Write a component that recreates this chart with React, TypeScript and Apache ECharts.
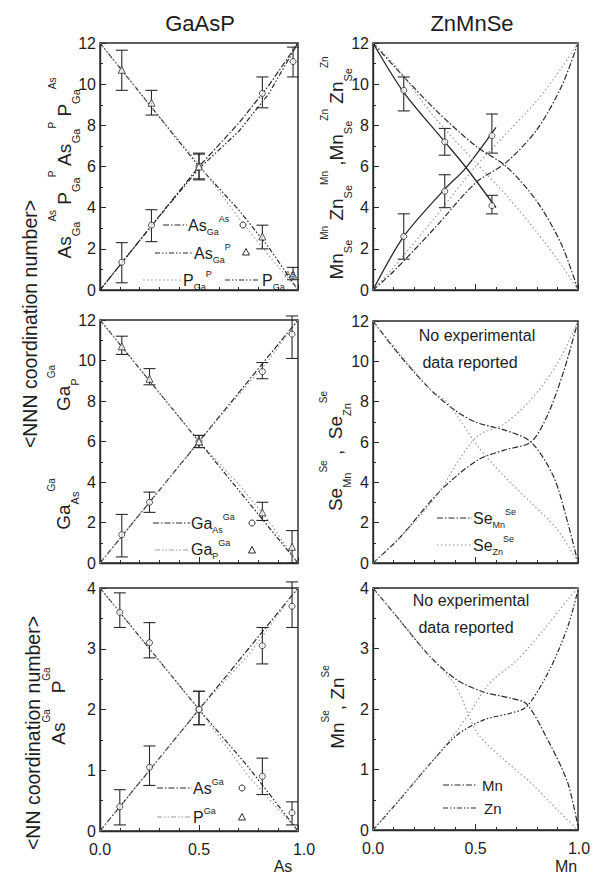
import React, { useEffect, useRef } from 'react';
import * as echarts from 'echarts';

const FONT = 'Liberation Sans, Arial, Helvetica, sans-serif';
const DARK = '#2a2a2a';
const GREY = '#9c9c9c';
const TXT = '#1e1e1e';

// ---------- Top-left: GaAsP NNN ----------
const tlX = [0, 0.25, 0.5, 0.7, 0.85, 1];
const tlAsGaAs = [0, 3.0, 6.0, 8.1, 9.9, 12];
const tlPGaAs = [0, 3.0, 5.9, 7.7, 9.5, 12];
const tlAsGaP = [12, 9.0, 6.0, 3.9, 2.1, 0];
const tlPGaP = [12, 9.0, 6.1, 3.5, 1.7, 0];
const tlPtX = [0.11, 0.26, 0.5, 0.82, 0.975];
const tlIncY = [1.35, 3.15, 6.0, 9.55, 11.1];
const tlIncLo = [0.35, 2.35, 5.35, 8.85, 10.35];
const tlIncHi = [2.3, 3.9, 6.65, 10.35, 11.8];
const tlDecY = [10.7, 9.1, 6.0, 2.6, 0.75];
const tlDecLo = [9.7, 8.5, 5.4, 2.0, 0.5];
const tlDecHi = [11.65, 9.7, 6.6, 3.15, 1.1];

// ---------- Top-right: ZnMnSe NNN ----------
const trSolidX = [0, 0.15, 0.35, 0.45, 0.6];
const trSolidDec = [12, 9.6, 7.2, 6.0, 4.0];
const trSolidInc = [0, 2.6, 4.9, 5.9, 7.9];
const trX = [0, 0.1, 0.3, 0.5, 0.65, 0.8, 0.92, 1];
const trDashDec = [12, 10.9, 8.8, 7.0, 6.0, 4.3, 2.2, 0];
const trDashInc = [0, 0.9, 3.0, 5.2, 6.2, 7.8, 9.9, 12];
const trDotDec = [12, 11.0, 8.4, 6.2, 4.6, 2.8, 1.2, 0];
const trDotInc = [0, 1.1, 3.5, 6.0, 7.6, 9.2, 10.8, 12];
const trPtX = [0.15, 0.35, 0.58];
const trIncY = [2.6, 4.8, 7.5];
const trIncLo = [1.5, 4.0, 6.65];
const trIncHi = [3.7, 5.6, 8.55];
const trDecY = [9.7, 7.2, 4.1];
const trDecLo = [8.7, 6.55, 3.7];
const trDecHi = [10.35, 7.85, 4.6];

// ---------- Middle-left: GaAsP Ga-Ga NNN ----------
const mlX = [0, 0.5, 0.7, 0.85, 1];
const mlGaAsA = [0, 6.0, 8.4, 10.2, 12];
const mlGaAsB = [0, 6.0, 8.3, 10.0, 12];
const mlGaPA = [12, 6.0, 3.6, 1.8, 0];
const mlGaPB = [12, 6.0, 3.9, 2.1, 0];
const mlPtX = [0.11, 0.25, 0.5, 0.82, 0.97];
const mlIncY = [1.4, 3.0, 6.0, 9.45, 11.3];
const mlIncLo = [0.3, 2.5, 5.7, 9.1, 10.1];
const mlIncHi = [2.4, 3.5, 6.3, 9.9, 12.2];
const mlDecY = [10.7, 9.1, 6.0, 2.5, 0.8];
const mlDecLo = [10.3, 8.8, 5.7, 2.1, 0];
const mlDecHi = [11.2, 9.6, 6.3, 3.0, 1.6];

// ---------- Middle-right: ZnMnSe Se-Se NNN ----------
const mrDarkX = [0, 0.13, 0.28, 0.41, 0.51, 0.64, 0.77, 0.88, 0.95, 1];
const mrDarkDec = [12, 10.3, 8.6, 7.5, 6.95, 6.6, 6.0, 4.3, 2.0, 0];
const mrDarkIncX = [0, 0.13, 0.33, 0.51, 0.64, 0.77, 0.85, 0.93, 1];
const mrDarkInc = [0, 1.25, 3.6, 5.1, 5.6, 6.0, 7.3, 9.5, 12];
const mrGreyIncX = [0, 0.2, 0.33, 0.4, 0.51, 0.64, 0.77, 0.9, 1];
const mrGreyInc = [0, 2.0, 3.6, 4.8, 6.3, 6.9, 8.1, 9.9, 12];
const mrGreyDecX = [0, 0.28, 0.36, 0.51, 0.64, 0.77, 0.9, 1];
const mrGreyDec = [12, 8.6, 8.0, 5.8, 4.3, 3.0, 1.65, 0];

// ---------- Bottom-left: GaAsP NN ----------
const blX = [0, 0.5, 0.75, 1];
const blAsA = [0, 2.0, 3.0, 4];
const blAsB = [0, 2.0, 2.9, 4];
const blPA = [4, 2.0, 1.05, 0];
const blPB = [4, 2.0, 0.9, 0];
const blPtX = [0.1, 0.25, 0.5, 0.82, 0.97];
const blIncY = [0.4, 1.05, 2.0, 3.05, 3.7];
const blIncLo = [0.1, 0.75, 1.75, 2.75, 3.35];
const blIncHi = [0.68, 1.4, 2.3, 3.35, 4.1];
const blDecY = [3.6, 3.1, 2.0, 0.9, 0.3];
const blDecLo = [3.35, 2.85, 1.75, 0.6, 0.1];
const blDecHi = [3.92, 3.43, 2.3, 1.2, 0.48];

// ---------- Bottom-right: ZnMnSe NN ----------
const brDarkX = [0, 0.13, 0.28, 0.41, 0.54, 0.67, 0.75, 0.86, 0.95, 1];
const brDarkDec = [4, 3.47, 2.86, 2.48, 2.28, 2.18, 2.08, 1.44, 0.78, 0.05];
const brDarkInc = [0, 0.5, 1.1, 1.57, 1.82, 1.93, 2.04, 2.64, 3.36, 3.97];
const brGreyIncX = [0, 0.28, 0.4, 0.47, 0.57, 0.7, 0.83, 0.96, 1];
const brGreyInc = [0, 1.1, 1.6, 1.93, 2.43, 2.8, 3.3, 3.85, 4];
const brGreyDecX = [0, 0.28, 0.4, 0.51, 0.64, 0.77, 0.9, 1];
const brGreyDec = [4, 2.86, 2.4, 1.6, 1.16, 0.78, 0.33, 0];

const xTicks = [0, 0.5, 1];

const GRIDS = [
  { left: 100, top: 43, width: 198, height: 247 },
  { left: 373, top: 43, width: 205, height: 247 },
  { left: 100, top: 320, width: 198, height: 243 },
  { left: 373, top: 321, width: 205, height: 242 },
  { left: 100, top: 588, width: 198, height: 243 },
  { left: 373, top: 588, width: 205, height: 242 },
];

const DASHDOT = [6, 2, 1.5, 2];
const DASHDOTDOT = [5, 2, 1.5, 2, 1.5, 2];
const DOT = [1.5, 2.5];

function lineS(gi: number, xs: number[], ys: number[], color: string, dash: any, smooth = 0, width = 1.2) {
  return {
    type: 'line', xAxisIndex: gi, yAxisIndex: gi,
    data: xs.map((x, i) => [x, ys[i]]),
    symbol: 'none', showSymbol: false, smooth, silent: true, z: 2,
    lineStyle: { color, width, type: dash },
  };
}

function errS(gi: number, xs: number[], lo: number[], hi: number[]) {
  return {
    type: 'custom', xAxisIndex: gi, yAxisIndex: gi, silent: true, z: 3,
    data: xs.map((x, i) => [x, lo[i], hi[i]]),
    encode: { x: 0, y: [1, 2] },
    renderItem: (params: any, api: any) => {
      const a = api.coord([api.value(0), api.value(1)]);
      const b = api.coord([api.value(0), api.value(2)]);
      const w = 6;
      const st = { stroke: DARK, lineWidth: 1.1 };
      return {
        type: 'group', children: [
          { type: 'line', shape: { x1: a[0], y1: a[1], x2: b[0], y2: b[1] }, style: st },
          { type: 'line', shape: { x1: a[0] - w, y1: a[1], x2: a[0] + w, y2: a[1] }, style: st },
          { type: 'line', shape: { x1: b[0] - w, y1: b[1], x2: b[0] + w, y2: b[1] }, style: st },
        ],
      };
    },
  };
}

function ptS(gi: number, xs: number[], ys: number[], symbol: string) {
  return {
    type: 'scatter', xAxisIndex: gi, yAxisIndex: gi, silent: true, z: 4,
    data: xs.map((x, i) => [x, ys[i]]),
    symbol, symbolSize: symbol === 'triangle' ? 7 : 6,
    itemStyle: { color: '#fff', borderColor: DARK, borderWidth: 1 },
  };
}

function rich(main: number, sub: number, sup: number, lh: number) {
  return {
    m: { fontSize: main, fontFamily: FONT, lineHeight: lh, verticalAlign: 'middle', fill: TXT },
    b: { fontSize: sub, fontFamily: FONT, lineHeight: sub, verticalAlign: 'bottom', fill: TXT },
    t: { fontSize: sup, fontFamily: FONT, lineHeight: sup, verticalAlign: 'top', fill: TXT },
  };
}

function vLabel(x: number, y: number, text: string) {
  return {
    type: 'text', x, y, rotation: Math.PI / 2, z: 10,
    style: { text, rich: rich(19, 11, 10, 34), align: 'center', verticalAlign: 'middle', fill: TXT, fontFamily: FONT, fontSize: 19 },
  };
}

function legText(x: number, y: number, text: string) {
  return {
    type: 'text', x, y, z: 10,
    style: { text, rich: rich(16, 9, 9, 22), align: 'left', verticalAlign: 'middle', fill: TXT, fontFamily: FONT, fontSize: 16 },
  };
}

function legLine(x1: number, x2: number, y: number, color: string, dash: number[]) {
  return { type: 'line', z: 10, shape: { x1, y1: y, x2, y2: y }, style: { stroke: color, lineWidth: 1.2, lineDash: dash } };
}

function legCircle(cx: number, cy: number) {
  return { type: 'circle', z: 10, shape: { cx, cy, r: 3 }, style: { fill: '#fff', stroke: DARK, lineWidth: 1 } };
}

function legTri(cx: number, cy: number) {
  return {
    type: 'polygon', z: 10,
    shape: { points: [[cx, cy - 3.5], [cx + 3.5, cy + 3], [cx - 3.5, cy + 3]] },
    style: { fill: '#fff', stroke: DARK, lineWidth: 1 },
  };
}

function plainText(x: number, y: number, text: string, size: number, align = 'center') {
  return { type: 'text', x, y, z: 10, style: { text, fontSize: size, fontFamily: FONT, fill: TXT, align, verticalAlign: 'middle' } };
}

function buildOption() {
  const grid = GRIDS.map((g) => ({ ...g, show: true, borderColor: DARK, borderWidth: 1.4, backgroundColor: 'transparent' }));
  const xAxis = GRIDS.map((_, i) => ({
    type: 'value', gridIndex: i, min: xTicks[0], max: xTicks[2], interval: xTicks[1] - xTicks[0],
    axisLine: { show: true, onZero: false, lineStyle: { color: DARK, width: 1.4 } },
    axisTick: { show: true, inside: true, length: 6, lineStyle: { color: DARK, width: 1 } },
    minorTick: { show: true, splitNumber: 5, length: 3, lineStyle: { color: DARK, width: 1 } },
    splitLine: { show: false },
    axisLabel: {
      show: i >= 4, fontSize: 16, fontFamily: FONT, color: TXT, margin: 10,
      formatter: (v: number) => (v === 1 ? '{e|' + v.toFixed(1) + '}' : v.toFixed(1)),
      rich: { e: { fontSize: 16, fontFamily: FONT, color: TXT, padding: [0, 0, 0, i === 4 ? 12 : 2] } },
    },
  }));
  const yAxis = GRIDS.map((_, i) => ({
    type: 'value', gridIndex: i, min: 0, max: i >= 4 ? 4 : 12, interval: i >= 4 ? 1 : 2,
    axisLine: { show: true, onZero: false, lineStyle: { color: DARK, width: 1.4 } },
    axisTick: { show: true, inside: true, length: 6, lineStyle: { color: DARK, width: 1 } },
    minorTick: { show: true, splitNumber: 2, length: 3, lineStyle: { color: DARK, width: 1 } },
    splitLine: { show: false },
    axisLabel: { fontSize: 16, fontFamily: FONT, color: TXT, margin: 4 },
  }));

  const series: any[] = [
    // top-left
    lineS(0, tlX, tlAsGaAs, DARK, DASHDOT),
    lineS(0, tlX, tlPGaAs, DARK, DASHDOTDOT),
    lineS(0, tlX, tlAsGaP, DARK, DASHDOTDOT),
    lineS(0, tlX, tlPGaP, GREY, DOT),
    errS(0, tlPtX, tlIncLo, tlIncHi),
    errS(0, tlPtX, tlDecLo, tlDecHi),
    ptS(0, tlPtX, tlIncY, 'circle'),
    ptS(0, tlPtX, tlDecY, 'triangle'),
    // top-right
    lineS(1, trSolidX, trSolidDec, DARK, 'solid', 0.3, 1.3),
    lineS(1, trSolidX, trSolidInc, DARK, 'solid', 0.3, 1.3),
    lineS(1, trX, trDashDec, DARK, DASHDOT, 0.3),
    lineS(1, trX, trDashInc, DARK, DASHDOT, 0.3),
    lineS(1, trX, trDotDec, GREY, DOT, 0.3),
    lineS(1, trX, trDotInc, GREY, DOT, 0.3),
    errS(1, trPtX, trIncLo, trIncHi),
    errS(1, trPtX, trDecLo, trDecHi),
    ptS(1, trPtX, trIncY, 'circle'),
    ptS(1, trPtX, trDecY, 'circle'),
    // middle-left
    lineS(2, mlX, mlGaAsA, DARK, DASHDOT),
    lineS(2, mlX, mlGaAsB, GREY, DOT),
    lineS(2, mlX, mlGaPA, DARK, DASHDOTDOT),
    lineS(2, mlX, mlGaPB, GREY, DOT),
    errS(2, mlPtX, mlIncLo, mlIncHi),
    errS(2, mlPtX, mlDecLo, mlDecHi),
    ptS(2, mlPtX, mlIncY, 'circle'),
    ptS(2, mlPtX, mlDecY, 'triangle'),
    // middle-right
    lineS(3, mrDarkX, mrDarkDec, DARK, DASHDOT, 0.3),
    lineS(3, mrDarkIncX, mrDarkInc, DARK, DASHDOT, 0.3),
    lineS(3, mrGreyIncX, mrGreyInc, GREY, DOT, 0.3),
    lineS(3, mrGreyDecX, mrGreyDec, GREY, DOT, 0.3),
    // bottom-left
    lineS(4, blX, blAsA, DARK, DASHDOT),
    lineS(4, blX, blAsB, GREY, DOT),
    lineS(4, blX, blPA, DARK, DASHDOTDOT),
    lineS(4, blX, blPB, GREY, DOT),
    errS(4, blPtX, blIncLo, blIncHi),
    errS(4, blPtX, blDecLo, blDecHi),
    ptS(4, blPtX, blIncY, 'circle'),
    ptS(4, blPtX, blDecY, 'circle'),
    // bottom-right
    lineS(5, brDarkX, brDarkDec, DARK, DASHDOT, 0.3),
    lineS(5, brDarkX, brDarkInc, DARK, DASHDOTDOT, 0.3),
    lineS(5, brGreyIncX, brGreyInc, GREY, DOT, 0.3),
    lineS(5, brGreyDecX, brGreyDec, GREY, DOT, 0.3),
  ];

  const graphic: any[] = [
    plainText(200, 23, 'GaAsP', 22),
    plainText(472, 23, 'ZnMnSe', 22),
    {
      type: 'text', x: 30, y: 324, rotation: Math.PI / 2, z: 10,
      style: { text: '<NNN coordination number>', fontSize: 19.5, fontFamily: FONT, fill: TXT, align: 'center', verticalAlign: 'middle' },
    },
    {
      type: 'text', x: 33, y: 733, rotation: Math.PI / 2, z: 10,
      style: { text: '<NN coordination number>', fontSize: 19.5, fontFamily: FONT, fill: TXT, align: 'center', verticalAlign: 'middle' },
    },
    vLabel(64, 168, '{m|As}{b|Ga}{t|As}{m| P}{b|Ga}{t|P}{m| As}{b|Ga}{t|P}{m| P}{b|Ga}{t|As}'),
    vLabel(336, 168, '{m|Mn}{b|Se}{t|Mn}{m| Zn}{b|Se}{t|Mn}{m| ,Mn}{b|Se}{t|Zn}{m| Zn}{b|Se}{t|Zn}'),
    vLabel(63, 504, '{m|Ga}{b|As}{t|Ga}'),
    vLabel(63, 388, '{m|Ga}{b|P}{t|Ga}'),
    vLabel(335, 451, '{m|Se}{b|Mn}{t|Se}{m| ,  Se}{b|Zn}{t|Se}'),
    vLabel(58, 706, '{m|As}{t|Ga}{m|   P}{t|Ga}'),
    vLabel(337, 707, '{m|Mn}{t|Se}{m|, Zn}{t|Se}'),
    // x axis titles
    plainText(283, 866, 'As', 16),
    plainText(566, 866, 'Mn', 16),
    // notes
    plainText(477, 335, 'No experimental', 16),
    plainText(470, 362, 'data reported', 16),
    plainText(471, 600, 'No experimental', 16),
    plainText(466, 627, 'data reported', 16),
    // legend top-left
    legLine(163, 187, 225, DARK, DASHDOT), legText(188, 225, '{m|As}{b|Ga}{t|As}'), legCircle(243, 225),
    legLine(155, 193, 253, DARK, DASHDOTDOT), legText(194, 253, '{m|As}{b|Ga}{t|P}'), legTri(246, 252),
    legLine(143, 182, 280, GREY, DOT), legText(183, 280, '{m|P}{b|Ga}{t|P}'),
    legLine(225, 260, 280, DARK, DASHDOTDOT), legText(262, 280, '{m|P}{b|Ga}{t|As}'),
    // legend middle-left
    legLine(153, 190, 523, DARK, DASHDOT), legText(191, 523, '{m|Ga}{b|As}{t|Ga}'), legCircle(252, 523),
    legLine(155, 190, 550, GREY, DASHDOTDOT), legText(191, 549, '{m|Ga}{b|P}{t|Ga}'), legTri(252, 550),
    // legend bottom-left
    legLine(157, 192, 788, DARK, DASHDOT), legText(193, 788, '{m|As}{t|Ga}'), legCircle(242, 788),
    legLine(157, 192, 817, GREY, DASHDOTDOT), legText(193, 817, '{m|P}{t|Ga}'), legTri(242, 817),
    // legend middle-right
    legLine(437, 472, 518, DARK, DASHDOT), legText(473, 518, '{m|Se}{b|Mn}{t|Se}'),
    legLine(437, 472, 545, GREY, DOT), legText(473, 545, '{m|Se}{b|Zn}{t|Se}'),
    // legend bottom-right
    legLine(443, 477, 785, DARK, DASHDOT), plainText(482, 785, 'Mn', 15, 'left'),
    legLine(443, 477, 808, DARK, DASHDOTDOT), plainText(484, 808, 'Zn', 15, 'left'),
  ];

  return { animation: false, backgroundColor: '#fff', grid, xAxis, yAxis, series, graphic };
}

export default function App() {
  const ref = useRef<HTMLDivElement>(null);
  useEffect(() => {
    const chart = echarts.init(ref.current!, null, { renderer: 'svg' });
    chart.setOption(buildOption() as any);
    return () => chart.dispose();
  }, []);
  return <div ref={ref} style={{ position: 'absolute', left: 0, top: 0, width: 596, height: 874, background: '#fff' }} />;
}
